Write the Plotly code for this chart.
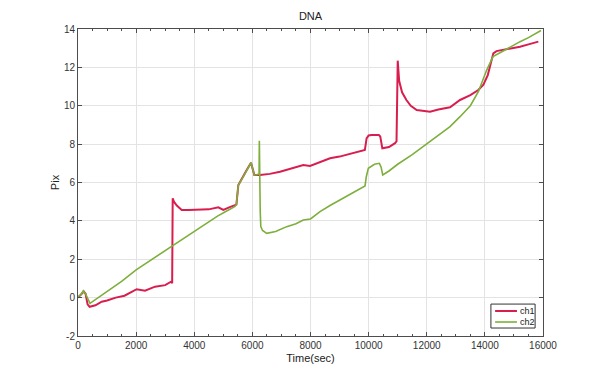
import plotly.graph_objects as go

# ---- data ----
t_ch1 = [0, 100, 200, 260, 330, 400, 600, 815, 1000, 1300, 1600, 2019, 2305, 2650, 3000, 3200, 3240,
         3258, 3300, 3400, 3568, 3800, 4198, 4500, 4829, 5001, 5200, 5403, 5450, 5517, 5650, 5805,
         5953, 6067, 6263, 6600, 6951, 7300, 7753, 7983, 8300, 8672, 9000, 9400, 9700, 9870, 9930,
         10000, 10100, 10350, 10400, 10450, 10472, 10700, 10909, 10960, 11001, 11050, 11150, 11300,
         11450, 11655, 11900, 12113, 12400, 12801, 13145, 13500, 13775, 13950, 14100, 14291, 14400,
         14694, 15000, 15210, 15500, 15840]
ch1 = [0.0, 0.15, 0.32, 0.2, -0.35, -0.48, -0.4, -0.21, -0.15, 0.0, 0.1, 0.44, 0.36, 0.57, 0.65, 0.83, 0.75,
       5.18, 5.0, 4.8, 4.57, 4.57, 4.57, 4.6, 4.71, 4.57, 4.7, 4.8, 4.85, 5.87, 6.2, 6.65,
       7.03, 6.39, 6.39, 6.45, 6.56, 6.7, 6.91, 6.86, 7.05, 7.26, 7.35, 7.5, 7.65, 7.69, 8.3,
       8.45, 8.48, 8.48, 8.4, 7.85, 7.78, 7.85, 8.05, 8.15, 12.35, 11.3, 10.7, 10.3,
       10.0, 9.78, 9.75, 9.69, 9.8, 9.92, 10.3, 10.55, 10.82, 11.1, 11.6, 12.73, 12.85,
       12.94, 13.0, 13.08, 13.2, 13.34]

t_ch2 = [0, 100, 183, 260, 413, 600, 1000, 1500, 2000, 2500, 3000, 3250, 3600, 4000, 4400, 4800, 5100,
         5403, 5450, 5517, 5650, 5805, 5953, 6067, 6150, 6230, 6240, 6270, 6290, 6350, 6493, 6800,
         7181, 7500, 7753, 8000, 8328, 8672, 9016, 9400, 9700, 9876, 9920, 9990, 10200, 10370, 10430,
         10485, 10700, 11000, 11500, 12000, 12227, 12801, 13145, 13500, 13775, 13950, 14063, 14280,
         14636, 15000, 15210, 15500, 15830, 15930]
ch2 = [0.05, 0.15, 0.36, 0.2, -0.3, -0.1, 0.3, 0.85, 1.45, 1.95, 2.45, 2.72, 3.05, 3.48, 3.85, 4.25, 4.5,
       4.75, 4.85, 5.87, 6.2, 6.65, 7.03, 6.39, 6.4, 6.45, 8.18, 4.5, 3.7, 3.5, 3.35, 3.45,
       3.70, 3.85, 4.05, 4.1, 4.48, 4.8, 5.09, 5.45, 5.7, 5.82, 6.3, 6.74, 6.95, 7.0, 6.8,
       6.39, 6.6, 6.95, 7.45, 8.0, 8.25, 8.91, 9.43, 10.0, 10.73, 11.4, 11.86, 12.56,
       12.87, 13.15, 13.34, 13.55, 13.86, 13.92]

series_names = ["ch1", "ch2"]
series_colors = ["#D81E4E", "#7DAF3C"]
series_widths = [2, 1.6]

x_ticks = [0, 2000, 4000, 6000, 8000, 10000, 12000, 14000, 16000]
y_ticks = [-2, 0, 2, 4, 6, 8, 10, 12, 14]

FONT = "Arial, Liberation Sans, sans-serif"

fig = go.Figure()
for (tx, vy), nm, col, w in zip([(t_ch1, ch1), (t_ch2, ch2)], series_names, series_colors, series_widths):
    fig.add_trace(go.Scatter(x=tx, y=vy, mode="lines", name=nm, showlegend=False,
                             line=dict(color=col, width=w)))

axis_common = dict(
    showline=True, linecolor="#4d4d4d", linewidth=1, mirror="allticks",
    ticks="inside", ticklen=4, tickcolor="#4d4d4d",
    showgrid=True, gridcolor="#e3e3e3", gridwidth=1, zeroline=False,
    tickfont=dict(family=FONT, size=10, color="#333333"),
)

# custom compact legend box (MATLAB style)
shapes = [dict(type="rect", xref="paper", yref="paper", x0=0.888, x1=0.983, y0=0.026, y1=0.104,
               line=dict(color="#333333", width=1), fillcolor="white", layer="above")]
annotations = []
leg_y = [0.0814, 0.0456]
for nm, col, w, ly in zip(series_names, series_colors, series_widths, leg_y):
    shapes.append(dict(type="line", xref="paper", yref="paper", x0=0.897, x1=0.944, y0=ly, y1=ly,
                       line=dict(color=col, width=w), layer="above"))
    annotations.append(dict(text=nm, xref="paper", yref="paper", x=0.946, y=ly, xanchor="left",
                            yanchor="middle", showarrow=False,
                            font=dict(family=FONT, size=9, color="#222222")))

fig.update_layout(
    width=600, height=379,
    paper_bgcolor="white", plot_bgcolor="white",
    margin=dict(l=70, r=65, t=21, b=51),
    title=dict(text="DNA", x=0.5, xref="paper", xanchor="center", y=0.979, yanchor="middle",
               font=dict(family=FONT, size=11, color="#222222")),
    xaxis=dict(range=[0, 16000], tickvals=x_ticks, ticktext=[str(v) for v in x_ticks],
               title=dict(text="Time(sec)", standoff=4, font=dict(family=FONT, size=11, color="#222222")),
               minor=dict(ticks="inside", dtick=500, ticklen=2, tickcolor="#4d4d4d", showgrid=False),
               **axis_common),
    xaxis2=dict(range=[0, 16000], overlaying="x", side="top", showticklabels=False,
                tickvals=x_ticks, ticks="inside", ticklen=4, tickcolor="#4d4d4d",
                showgrid=False, zeroline=False, showline=False,
                minor=dict(ticks="inside", dtick=500, ticklen=2, tickcolor="#4d4d4d", showgrid=False)),
    yaxis=dict(range=[-2, 14], tickvals=y_ticks, ticktext=[str(v) for v in y_ticks],
               title=dict(text="Pix", standoff=2, font=dict(family=FONT, size=11, color="#222222")),
               **axis_common),
    showlegend=False,
    shapes=shapes,
    annotations=annotations,
)

fig.write_html("out.html")
